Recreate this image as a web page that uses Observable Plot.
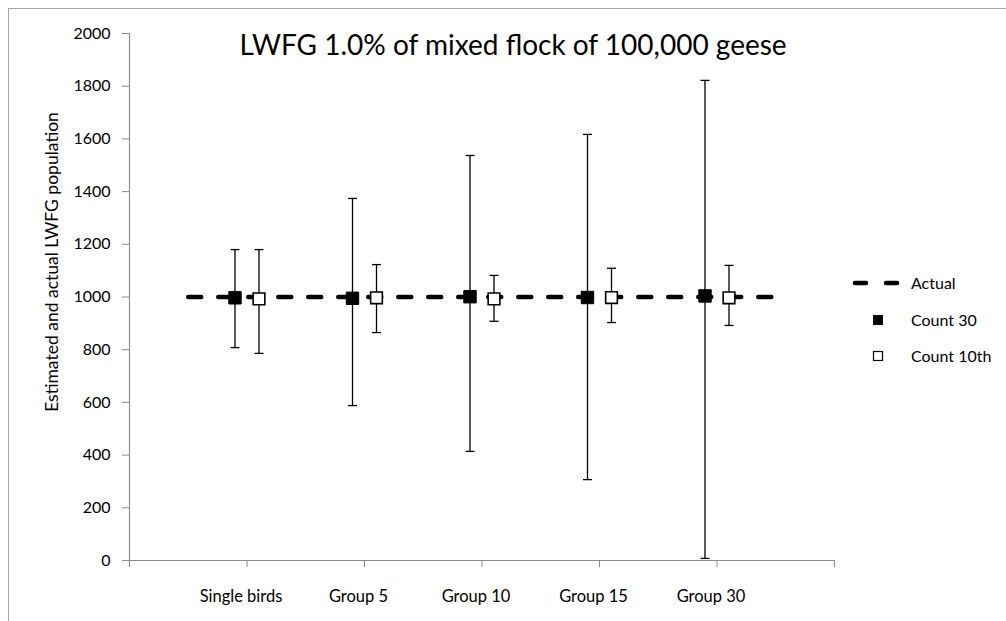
<!DOCTYPE html>
<html>
<head>
<meta charset="utf-8">
<script src="https://cdn.jsdelivr.net/npm/d3@7"></script>
<script src="https://cdn.jsdelivr.net/npm/@observablehq/plot@0.6"></script>
<style>
  html, body { margin: 0; padding: 0; background: #fff; }
  #wrap { position: relative; width: 1006px; height: 621px; overflow: hidden; font-family: Lato, "Open Sans", sans-serif; color: #000; }
  #border { position: absolute; left: 8px; top: 8px; width: 1100px; height: 700px; border: 1px solid #a6a6a6; box-sizing: border-box; }
  #title { position: absolute; left: 0; width: 1026px; top: 27px; text-align: center; font-size: 28px; line-height: 34px; white-space: nowrap; }
  #legend { position: absolute; left: 848px; top: 268px; font-size: 16px; }
  #chart { position: absolute; left: 0; top: 0; }
</style>
</head>
<body>
<div id="wrap">
  <div id="border"></div>
  <div id="chart"></div>
  <div id="title"></div>
  <svg id="legend" width="150" height="110"></svg>
</div>
<script>
// ---- data ----
const title = "LWFG 1.0% of mixed flock of 100,000 geese";
const yLabel = "Estimated and actual LWFG population";
const categories = ["Single birds", "Group 5", "Group 10", "Group 15", "Group 30"];
const count30 = [997, 995, 1001, 998, 1004];
const count30Low = [808, 588, 414, 307, 8];
const count30High = [1180, 1374, 1537, 1617, 1822];
const count10 = [993, 997, 993, 998, 997];
const count10Low = [786, 865, 908, 903, 892];
const count10High = [1180, 1123, 1082, 1109, 1120];
const actualValue = 1000;
const actualSpan = [0.5, 5.5];
const yTicks = [0, 200, 400, 600, 800, 1000, 1200, 1400, 1600, 1800, 2000];
const xTicks = [0, 1, 2, 3, 4, 5, 6];
const seriesNames = ["Actual", "Count 30", "Count 10th"];

// ---- tables built from arrays ----
const rows30 = categories.map((c, i) => ({cat: c, pos: i + 1, v: count30[i], lo: count30Low[i], hi: count30High[i]}));
const rows10 = categories.map((c, i) => ({cat: c, pos: i + 1, v: count10[i], lo: count10Low[i], hi: count10High[i]}));
const actualRows = actualSpan.map(x => ({x, y: actualValue}));

const cap = {draw(ctx, size) { const r = Math.sqrt(size / Math.PI); ctx.moveTo(-r, 0); ctx.lineTo(r, 0); }};
const off = 12;
const font = "Lato, 'Open Sans', sans-serif";

const chart = Plot.plot({
  width: 1006,
  height: 621,
  marginLeft: 129,
  marginRight: 172,
  marginTop: 33,
  marginBottom: 61,
  x: {domain: [0, 6], axis: null},
  y: {domain: [0, 2000], axis: null},
  style: {fontFamily: font, fontSize: "16px", color: "#000", background: "transparent"},
  marks: [
    Plot.axisY({ticks: yTicks, tickSize: 7, tickPadding: 12, tickFormat: d => String(d), stroke: "#8c8c8c", fill: "#000", label: null, fontSize: 16}),
    Plot.axisX({ticks: xTicks, tickSize: 7, tickFormat: () => "", stroke: "#8c8c8c", label: null}),
    Plot.ruleX([0], {stroke: "#8c8c8c", strokeWidth: 1.2}),
    Plot.ruleY([0], {stroke: "#8c8c8c", strokeWidth: 1.2}),
    Plot.text([yLabel], {frameAnchor: "left", textAnchor: "middle", rotate: -90, dx: -77, dy: -35, fontSize: 17.5, fill: "#000"}),
    Plot.text(rows30, {x: "pos", text: "cat", frameAnchor: "bottom", dy: 41, dx: -6, fontSize: 16.5, fill: "#000"}),
    Plot.line(actualRows, {x: "x", y: "y", stroke: "#000", strokeWidth: 4.5, strokeDasharray: "13,17", strokeLinecap: "round"}),
    // error bars
    Plot.ruleX(rows30, {x: "pos", y1: "lo", y2: "hi", dx: -off, stroke: "#000", strokeWidth: 1.3}),
    Plot.dot(rows30, {x: "pos", y: "hi", dx: -off, symbol: cap, r: 4.5, stroke: "#000", strokeWidth: 1.3}),
    Plot.dot(rows30, {x: "pos", y: "lo", dx: -off, symbol: cap, r: 4.5, stroke: "#000", strokeWidth: 1.3}),
    Plot.ruleX(rows10, {x: "pos", y1: "lo", y2: "hi", dx: off, stroke: "#000", strokeWidth: 1.3}),
    Plot.dot(rows10, {x: "pos", y: "hi", dx: off, symbol: cap, r: 4.5, stroke: "#000", strokeWidth: 1.3}),
    Plot.dot(rows10, {x: "pos", y: "lo", dx: off, symbol: cap, r: 4.5, stroke: "#000", strokeWidth: 1.3}),
    // markers
    Plot.dot(rows30, {x: "pos", y: "v", dx: -off, symbol: "square", r: 7, fill: "#000", stroke: "#000", strokeWidth: 1}),
    Plot.dot(rows10, {x: "pos", y: "v", dx: off, symbol: "square", r: 6.6, fill: "#fff", stroke: "#000", strokeWidth: 1.6})
  ]
});
document.getElementById("chart").appendChild(chart);
document.getElementById("title").textContent = title;

// ---- legend ----
const lg = d3.select("#legend");
const rowY = [15, 52, 88];
lg.append("line").attr("x1", 7).attr("x2", 52).attr("y1", rowY[0]).attr("y2", rowY[0])
  .attr("stroke", "#000").attr("stroke-width", 4.5).attr("stroke-dasharray", "11,20").attr("stroke-linecap", "round");
lg.append("rect").attr("x", 25).attr("y", rowY[1] - 5).attr("width", 10).attr("height", 10).attr("fill", "#000");
lg.append("rect").attr("x", 25.5).attr("y", rowY[2] - 4.5).attr("width", 9).attr("height", 9).attr("fill", "#fff").attr("stroke", "#000").attr("stroke-width", 1.2);
seriesNames.forEach((n, i) => {
  lg.append("text").attr("x", 63).attr("y", rowY[i]).attr("dy", "0.35em").attr("font-size", 16)
    .attr("font-family", font).text(n);
});
</script>
</body>
</html>
